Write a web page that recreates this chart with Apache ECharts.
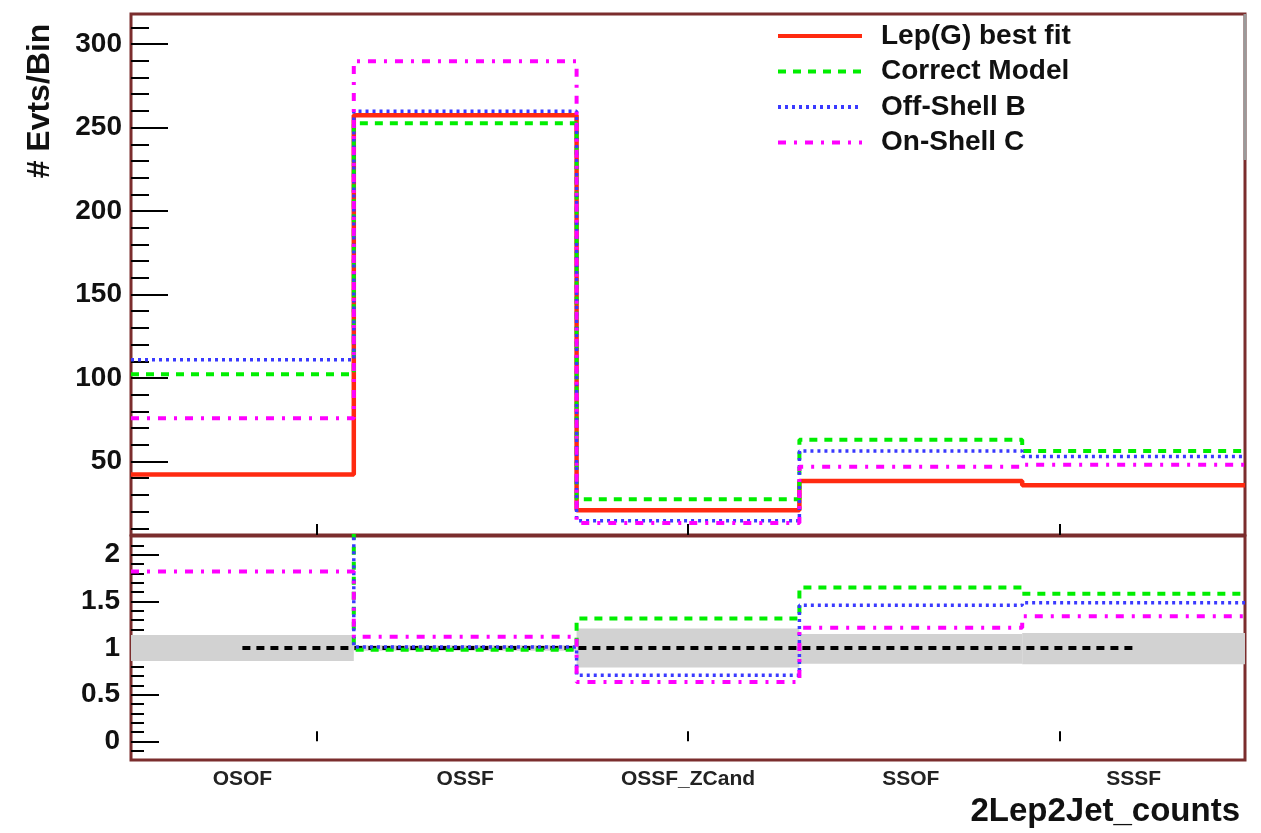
<!DOCTYPE html>
<html><head><meta charset="utf-8">
<script src="https://cdn.jsdelivr.net/npm/echarts@6/dist/echarts.min.js"></script>
<style>html,body{margin:0;padding:0;background:#fff}#c{width:1261px;height:833px}</style>
</head><body><div id="c"></div>
<script>
// ---- data ----
const categories = ['OSOF', 'OSSF', 'OSSF_ZCand', 'SSOF', 'SSSF'];
const lepG       = [42.2, 257.4, 20.8, 38.4, 35.8];
const correct    = [102.2, 252.6, 27.4, 63.0, 56.3];
const offShellB  = [111.0, 259.8, 14.6, 56.3, 53.0];
const onShellC   = [75.9, 289.7, 13.2, 46.8, 48.0];
const ratioCorrect   = [2.43, 0.98, 1.315, 1.647, 1.582];
const ratioOffShellB = [2.65, 1.01, 0.708, 1.457, 1.486];
const ratioOnShellC  = [1.82, 1.12, 0.636, 1.218, 1.34];
const refLine  = [1, 1, 1, 1, 1];
const bandLow  = [0.86, 0.97, 0.79, 0.83, 0.825];
const bandHigh = [1.14, 1.03, 1.21, 1.15, 1.16];
const topTicks = [50, 100, 150, 200, 250, 300];
const topMinor = [10, 20, 30, 40, 60, 70, 80, 90, 110, 120, 130, 140, 160, 170, 180, 190, 210, 220, 230, 240, 260, 270, 280, 290, 310];
const ratioTickVals = [0, 0.5, 1, 1.5, 2];
const ratioMinor = [-0.1, 0.1, 0.2, 0.3, 0.4, 0.6, 0.7, 0.8, 0.9, 1.1, 1.2, 1.3, 1.4, 1.6, 1.7, 1.8, 1.9, 2.1];
const xTickVals = [0.833, 2.5, 4.167];

// histogram outline: bin i spans [i, i+1]
function hist(vals) {
  const d = vals.map((v, i) => [i, v]);
  d.push([vals.length, vals[vals.length - 1]]);
  return d;
}

const FONT = 'Liberation Sans, Arial, Helvetica, sans-serif';
const FRAME = '#7b2d2d';
const RED = '#ff2a10', GREEN = '#00ee00', BLUE = '#3a3aff', MAG = '#ff00ff';
const chart = echarts.init(document.getElementById('c'), null, {renderer: 'canvas'});

function stepSeries(name, vals, color, type, width, xi, yi, z) {
  return {
    name: name, type: 'line', step: 'end', data: hist(vals),
    xAxisIndex: xi, yAxisIndex: yi, showSymbol: false, symbol: 'none',
    lineStyle: {color: color, width: width, type: type}, itemStyle: {color: color},
    z: z, silent: true
  };
}

const option = {
  animation: false,
  backgroundColor: '#fff',
  grid: [
    {left: 131, top: 14, width: 1114, height: 521, show: true, borderColor: FRAME, borderWidth: 3, backgroundColor: 'transparent'},
    {left: 131, top: 536, width: 1114, height: 224, show: true, borderColor: FRAME, borderWidth: 3, backgroundColor: 'transparent'}
  ],
  legend: {
    orient: 'vertical', left: 776, top: 22, padding: 0,
    itemWidth: 84, itemHeight: 20, itemGap: 7.5,
    itemStyle: {opacity: 0},
    lineStyle: {width: 4},
    data: ['Lep(G) best fit', 'Correct Model', 'Off-Shell B', 'On-Shell C'],
    textStyle: {fontFamily: FONT, fontSize: 28, fontWeight: 'bold', color: '#111', lineHeight: 28, padding: [0, 0, 0, 14]}
  },
  xAxis: [
    {type: 'value', gridIndex: 0, min: 0, max: 5, position: 'bottom',
     axisLine: {show: false}, splitLine: {show: false}, axisLabel: {show: false},
     axisTick: {show: true, inside: true, length: 11, customValues: xTickVals, lineStyle: {color: '#000', width: 2}}},
    {type: 'value', gridIndex: 1, min: 0, max: 5, position: 'bottom',
     axisLine: {show: false}, splitLine: {show: false}, axisLabel: {show: false},
     axisTick: {show: true, inside: true, length: 10, customValues: xTickVals, lineStyle: {color: '#000', width: 2}}},
    {type: 'category', gridIndex: 1, data: categories, boundaryGap: true, position: 'bottom',
     axisLine: {show: false}, axisTick: {show: false}, splitLine: {show: false},
     axisLabel: {fontFamily: FONT, fontSize: 21, fontWeight: 'bold', color: '#222', margin: 9}}
  ],
  yAxis: [
    {type: 'value', gridIndex: 0, min: 6, max: 318, position: 'left',
     axisLine: {show: false}, splitLine: {show: false},
     axisTick: {show: true, inside: true, length: 37, customValues: topTicks, lineStyle: {color: '#000', width: 2}},
     axisLabel: {customValues: topTicks, fontFamily: FONT, fontSize: 28, fontWeight: 'bold', color: '#111', margin: 9}},
    {type: 'value', gridIndex: 0, min: 6, max: 318, position: 'left',
     axisLine: {show: false}, splitLine: {show: false}, axisLabel: {show: false},
     axisTick: {show: true, inside: true, length: 18, customValues: topMinor, lineStyle: {color: '#000', width: 2}}},
    {type: 'value', gridIndex: 1, min: -0.2, max: 2.2, position: 'left',
     axisLine: {show: false}, splitLine: {show: false},
     axisTick: {show: true, inside: true, length: 28, customValues: ratioTickVals, lineStyle: {color: '#000', width: 2}},
     axisLabel: {customValues: ratioTickVals, fontFamily: FONT, fontSize: 28, fontWeight: 'bold', color: '#111', margin: 11}},
    {type: 'value', gridIndex: 1, min: -0.2, max: 2.2, position: 'left',
     axisLine: {show: false}, splitLine: {show: false}, axisLabel: {show: false},
     axisTick: {show: true, inside: true, length: 13, customValues: ratioMinor, lineStyle: {color: '#000', width: 2}}}
  ],
  series: [
    stepSeries('Lep(G) best fit', lepG, RED, 'solid', 4.5, 0, 0, 3),
    stepSeries('Correct Model', correct, GREEN, [8, 7], 4, 0, 0, 4),
    stepSeries('Off-Shell B', offShellB, BLUE, [3, 4], 3.5, 0, 0, 5),
    stepSeries('On-Shell C', onShellC, MAG, [8, 8, 3, 8], 4, 0, 0, 6),
    // ratio panel band
    {type: 'bar', xAxisIndex: 2, yAxisIndex: 2, stack: 'band', data: bandLow, barCategoryGap: '0%', barWidth: '100%',
     itemStyle: {color: 'rgba(0,0,0,0)'}, silent: true, z: 1},
    {type: 'bar', xAxisIndex: 2, yAxisIndex: 2, stack: 'band', data: bandHigh.map((h, i) => h - bandLow[i]),
     barCategoryGap: '0%', barWidth: '100%', itemStyle: {color: '#d2d2d2'}, silent: true, z: 1},
    {type: 'line', xAxisIndex: 2, yAxisIndex: 2, data: refLine, showSymbol: false, symbol: 'none',
     lineStyle: {color: '#000', width: 4, type: [8, 6]}, z: 3, silent: true},
    stepSeries('Correct Model', ratioCorrect, GREEN, [8, 7], 4, 1, 2, 4),
    stepSeries('Off-Shell B', ratioOffShellB, BLUE, [3, 4], 3.5, 1, 2, 5),
    stepSeries('On-Shell C', ratioOnShellC, MAG, [8, 8, 3, 8], 4, 1, 2, 6)
  ],
  graphic: [
    {type: 'line', shape: {x1: 1245, y1: 14, x2: 1245, y2: 160}, style: {stroke: '#9a9a9a', lineWidth: 3}, z: 100},
    {type: 'text', x: 40, y: 101, rotation: Math.PI / 2,
     style: {text: '# Evts/Bin', fontFamily: FONT, fontSize: 32, fontWeight: 'bold', fill: '#111', align: 'center', verticalAlign: 'middle'}},
    {type: 'text', x: 1240, y: 812,
     style: {text: '2Lep2Jet_counts', fontFamily: FONT, fontSize: 33, fontWeight: 'bold', fill: '#111', align: 'right', verticalAlign: 'middle'}}
  ]
};
chart.setOption(option);
</script>
</body></html>
